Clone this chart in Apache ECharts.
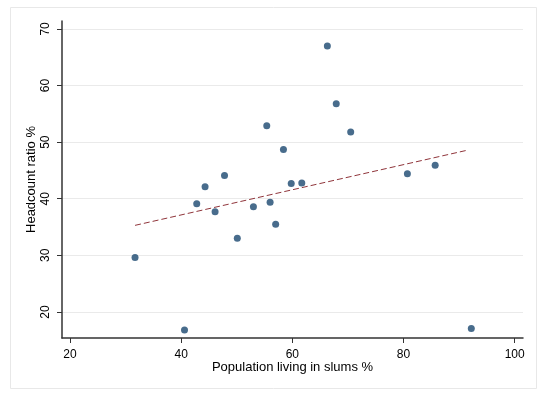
<!DOCTYPE html>
<html>
<head>
<meta charset="utf-8">
<script src="https://cdn.jsdelivr.net/npm/echarts@6/dist/echarts.min.js"></script>
<style>
  html, body { margin: 0; padding: 0; background: #fff; }
  #main { width: 550px; height: 398px; }
</style>
</head>
<body>
<div id="main"></div>
<script>
// slum population % vs headcount ratio %
const slumPct = [31.7, 40.6, 42.8, 44.3, 46.1, 47.8, 50.1, 53.0, 55.4, 56.0,
  57.0, 58.4, 59.8, 61.7, 66.3, 67.9, 70.5, 80.7, 85.7, 92.2];
const headcount = [29.6, 16.8, 39.1, 42.1, 37.7, 44.1, 33.0, 38.6, 52.9, 39.4,
  35.5, 48.7, 42.7, 42.8, 67.0, 56.8, 51.8, 44.4, 45.9, 17.1];
const fitX = [31.7, 91.6];
const fitY = [35.3, 48.6];
const xTicks = [20, 40, 60, 80, 100];
const yTicks = [20, 30, 40, 50, 60, 70];

const chart = echarts.init(document.getElementById('main'));
const font = 'Liberation Sans, Arial, sans-serif';

const option = {
  backgroundColor: '#fff',
  animation: false,
  graphic: [{
    type: 'rect',
    shape: { x: 10.5, y: 7.5, width: 526, height: 381 },
    style: { fill: 'none', stroke: '#e8e8e8', lineWidth: 1 },
    z: -1
  }],
  grid: { left: 62, right: 27, top: 21, bottom: 60 },
  xAxis: {
    type: 'value',
    min: 18.56,
    max: 101.5,
    name: 'Population living in slums %',
    nameLocation: 'middle',
    nameGap: 23,
    nameMoveOverlap: false,
    nameTextStyle: { color: '#000', fontSize: 13, fontFamily: font },
    axisLine: { lineStyle: { color: '#333', width: 1.5 } },
    axisTick: { show: true, length: 5, customValues: xTicks, lineStyle: { color: '#333' } },
    axisLabel: { customValues: xTicks, color: '#000', fontSize: 12, fontFamily: font, margin: 11 },
    splitLine: { show: false }
  },
  yAxis: {
    type: 'value',
    min: 15.4,
    max: 71.4,
    name: 'Headcount ratio %',
    nameLocation: 'middle',
    nameRotate: 90,
    nameGap: 24,
    nameMoveOverlap: false,
    nameTextStyle: { color: '#000', fontSize: 13, fontFamily: font },
    axisLine: { show: true, lineStyle: { color: '#333', width: 1.5 } },
    axisTick: { show: true, length: 5, customValues: yTicks, lineStyle: { color: '#333' } },
    axisLabel: { customValues: yTicks, rotate: 90, color: '#000', fontSize: 12, fontFamily: font, margin: 10 },
    splitLine: { show: true, lineStyle: { color: '#eaeaea', width: 1 } }
  },
  series: [
    {
      type: 'scatter',
      data: slumPct.map((x, i) => [x, headcount[i]]),
      symbolSize: 7,
      itemStyle: { color: '#1a476f' },
      z: 3
    },
    {
      type: 'line',
      data: fitX.map((x, i) => [x, fitY[i]]),
      showSymbol: false,
      lineStyle: { color: '#90353b', width: 1, type: [6, 3] },
      z: 2
    }
  ]
};

chart.setOption(option);
</script>
</body>
</html>
